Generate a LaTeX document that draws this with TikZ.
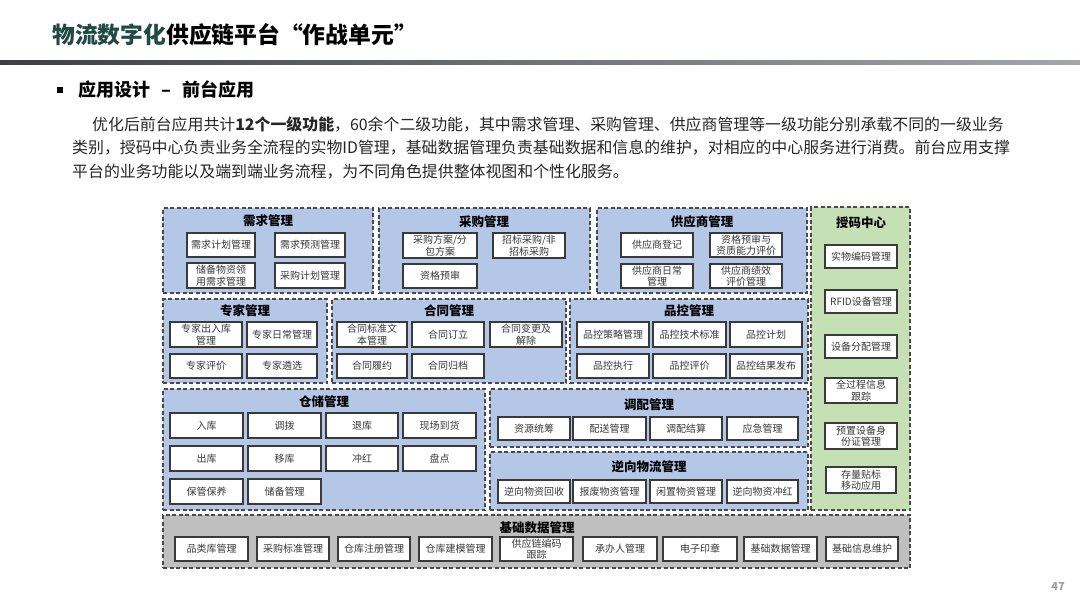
\documentclass[tikz,border=0pt]{standalone}
\usepackage{fontspec}
\setmainfont{Noto Sans CJK SC}
\definecolor{blueF}{HTML}{B4C7E7}
\definecolor{greenF}{HTML}{C5E0B4}
\definecolor{grayF}{HTML}{BFBFBF}
\definecolor{dashline}{HTML}{4A4A4A}
\definecolor{boxline}{HTML}{3A3A3A}
\definecolor{textgray}{HTML}{383838}
\definecolor{titlegreen}{HTML}{1F4B42}
\definecolor{paratext}{HTML}{262626}
\definecolor{ruleL}{HTML}{3A4046}
\definecolor{ruleR}{HTML}{A3A7AB}
\newcommand{\ibx}[6]{\node[ib,minimum width={(#4)-(#2)},minimum height={(#5)-(#3)}] (#1) at ({((#2)+(#4))/2},{((#3)+(#5))/2}) {#6};}
\newcommand{\gbx}[6]{\node[gb,fill=#6,minimum width={(#4)-(#2)},minimum height={(#5)-(#3)}] (#1) at ({((#2)+(#4))/2},{((#3)+(#5))/2}) {};}
\begin{document}
\begin{tikzpicture}[x=1pt,y=-1pt,
  ib/.style={draw=boxline,line width=1.2pt,fill=white,inner sep=0pt,align=center,text=textgray,font=\fontsize{10}{11.5}\selectfont},
  gb/.style={draw=dashline,line width=1.2pt,dash pattern=on 4pt off 2.5pt,inner sep=0pt},
  gt/.style={inner sep=0pt,font=\bfseries\fontsize{12.5}{14}\selectfont,text=black},
  para/.style={anchor=west,inner sep=0pt,text=paratext,font=\fontsize{15.9}{20}\selectfont}]
\useasboundingbox (0,0) rectangle (1080,608);
\fill[white] (0,0) rectangle (1080,608);
% header
\node[anchor=west,inner sep=0pt,font=\bfseries\fontsize{22.8}{27}\selectfont] (title) at (52,35) {\textcolor{titlegreen}{物流数字化}供应链平台“作战单元”};
\shade[left color=ruleL,right color=ruleR] (0,60) rectangle (1080,64);
\node[fill=black,minimum size=6pt,inner sep=0pt] (bul) at (60,90) {};
\node[anchor=west,inner sep=0pt,font=\bfseries\fontsize{18}{22}\selectfont] (sub) at (78,90) {应用设计\hspace{11pt}–\hspace{11pt}前台应用};
\node[para] (p1) at (92,124) {优化后前台应用共计\textbf{12个一级功能}，60余个二级功能，其中需求管理、采购管理、供应商管理等一级功能分别承载不同的一级业务};
\node[para] (p2) at (72,148) {类别，授码中心负责业务全流程的实物ID管理，基础数据管理负责基础数据和信息的维护，对相应的中心服务进行消费。前台应用支撑};
\node[para] (p3) at (72,172) {平台的业务功能以及端到端业务流程，为不同角色提供整体视图和个性化服务。};
% groups
\gbx{g1}{163}{208}{373}{293}{blueF}
\gbx{g2}{379}{208}{590}{293}{blueF}
\gbx{g3}{597}{208}{807}{293}{blueF}
\gbx{g4}{163}{299}{327}{383}{blueF}
\gbx{g5}{332}{299}{566}{383}{blueF}
\gbx{g6}{570}{299}{808}{383}{blueF}
\gbx{g7}{163}{389}{485}{510}{blueF}
\gbx{g8}{490}{389}{808}{447}{blueF}
\gbx{g9}{490}{452}{808}{510}{blueF}
\gbx{g10}{811}{207}{910}{510}{greenF}
\gbx{g11}{163}{515}{910}{568}{grayF}
\node[gt] (g1t) at (268,221) {需求管理};
\node[gt] (g2t) at (484,222) {采购管理};
\node[gt] (g3t) at (702,222) {供应商管理};
\node[gt] (g4t) at (245,311) {专家管理};
\node[gt] (g5t) at (449,311) {合同管理};
\node[gt] (g6t) at (689,311) {品控管理};
\node[gt] (g7t) at (324,402) {仓储管理};
\node[gt] (g8t) at (649,405) {调配管理};
\node[gt] (g9t) at (649,467) {逆向物流管理};
\node[gt] (g10t) at (861,223) {授码中心};
\node[gt] (g11t) at (537,528) {基础数据管理};
% 需求管理
\ibx{a1}{187}{233}{255}{257}{需求计划管理}
\ibx{a2}{275}{233}{345}{257}{需求预测管理}
\ibx{a3}{187}{263}{255}{288}{储备物资领\\用需求管理}
\ibx{a4}{275}{263}{345}{288}{采购计划管理}
% 采购管理
\ibx{b1}{403}{233}{477}{258}{采购方案/分\\包方案}
\ibx{b2}{493}{233}{565}{258}{招标采购/非\\招标采购}
\ibx{b3}{403}{264}{477}{288}{资格预审}
% 供应商管理
\ibx{c1}{621}{233}{693}{257}{供应商登记}
\ibx{c2}{710}{233}{782}{257}{资格预审与\\资质能力评价}
\ibx{c3}{621}{264}{693}{288}{供应商日常\\管理}
\ibx{c4}{710}{264}{782}{288}{供应商绩效\\评价管理}
% 专家管理
\ibx{d1}{170}{322}{242}{347}{专家出入库\\管理}
\ibx{d2}{247}{322}{317}{347}{专家日常管理}
\ibx{d3}{170}{354}{242}{378}{专家评价}
\ibx{d4}{247}{354}{317}{378}{专家遴选}
% 合同管理
\ibx{e1}{337}{322}{407}{347}{合同标准文\\本管理}
\ibx{e2}{412}{322}{484}{347}{合同订立}
\ibx{e3}{490}{322}{562}{347}{合同变更及\\解除}
\ibx{e4}{337}{354}{407}{378}{合同履约}
\ibx{e5}{412}{354}{484}{378}{合同归档}
% 品控管理
\ibx{f1}{577}{322}{649}{347}{品控策略管理}
\ibx{f2}{653}{322}{726}{347}{品控技术标准}
\ibx{f3}{730}{322}{802}{347}{品控计划}
\ibx{f4}{577}{354}{649}{378}{品控执行}
\ibx{f5}{653}{354}{726}{378}{品控评价}
\ibx{f6}{730}{354}{802}{378}{品控结果发布}
% 仓储管理
\ibx{h1}{170}{413}{243}{438}{入库}
\ibx{h2}{248}{413}{321}{438}{调拨}
\ibx{h3}{326}{413}{398}{438}{退库}
\ibx{h4}{403}{413}{476}{438}{现场到货}
\ibx{h5}{170}{446}{243}{471}{出库}
\ibx{h6}{248}{446}{321}{471}{移库}
\ibx{h7}{326}{446}{398}{471}{冲红}
\ibx{h8}{403}{446}{476}{471}{盘点}
\ibx{h9}{170}{479}{243}{504}{保管保养}
\ibx{h10}{248}{479}{321}{504}{储备管理}
% 调配管理
\ibx{i1}{498}{417}{570}{440}{资源统筹}
\ibx{i2}{573}{417}{646}{440}{配送管理}
\ibx{i3}{650}{417}{722}{440}{调配结算}
\ibx{i4}{727}{417}{798}{440}{应急管理}
% 逆向物流管理
\ibx{j1}{498}{480}{570}{503}{逆向物资回收}
\ibx{j2}{573}{480}{646}{503}{报废物资管理}
\ibx{j3}{650}{480}{722}{503}{闲置物资管理}
\ibx{j4}{727}{480}{798}{503}{逆向物资冲红}
% 授码中心
\ibx{k1}{825}{245}{897}{268}{实物编码管理}
\ibx{k2}{825}{290}{897}{313}{RFID设备管理}
\ibx{k3}{825}{335}{897}{358}{设备分配管理}
\ibx{k4}{825}{378}{897}{403}{全过程信息\\跟踪}
\ibx{k5}{825}{423}{897}{449}{预置设备身\\份证管理}
\ibx{k6}{826}{467}{896}{493}{存量贴标\\移动应用}
% 基础数据管理
\ibx{m1}{175}{537}{248}{561}{品类库管理}
\ibx{m2}{257}{537}{329}{561}{采购标准管理}
\ibx{m3}{338}{537}{410}{561}{仓库注册管理}
\ibx{m4}{419}{537}{492}{561}{仓库建模管理}
\ibx{m5}{500}{537}{573}{561}{供应链编码\\跟踪}
\ibx{m6}{583}{537}{657}{561}{承办人管理}
\ibx{m7}{663}{537}{737}{561}{电子印章}
\ibx{m8}{744}{537}{817}{561}{基础数据管理}
\ibx{m9}{826}{537}{898}{561}{基础信息维护}
% page number
\node[inner sep=0pt,text=gray!75,font=\bfseries\fontsize{11}{13}\selectfont] (pg) at (1058,587) {47};
\end{tikzpicture}
\end{document}
